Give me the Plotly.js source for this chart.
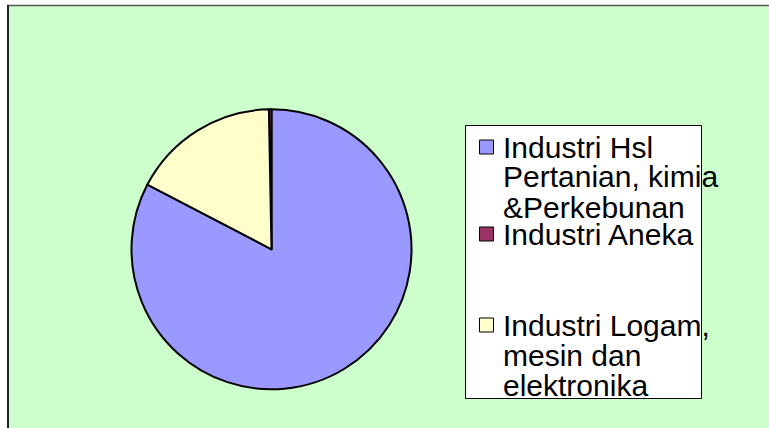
<!DOCTYPE html>
<html>
<head>
<meta charset="utf-8">
<script src="https://cdn.plot.ly/plotly-3.0.1.min.js"></script>
<style>html,body{margin:0;padding:0;background:#fff;}#chart{width:769px;height:428px;}</style>
</head>
<body>
<div id="chart"></div>
<script>
// ---- data ----
const legendLines = [
  ["Industri Hsl", "Pertanian, kimia", "&Perkebunan"],
  ["Industri Aneka"],
  ["Industri Logam,", "mesin dan", "elektronika"]
];
const categories = legendLines.map(l => l.join(" "));
const shares = [82.65, 0.3, 17.05];
const sliceColors = ["#9999FF", "#993366", "#FFFFCC"];

// ---- layout helpers (pixel -> paper) ----
const W = 769, H = 428;
const px = x => x / W;
const py = y => 1 - y / H;

const pieCx = 271.5, pieCy = 249.3, pieR = 140;

const trace = {
  type: "pie",
  labels: categories,
  values: shares,
  sort: false,
  direction: "counterclockwise",
  rotation: 0,
  textinfo: "none",
  hoverinfo: "label+percent",
  marker: { colors: sliceColors, line: { color: "#000000", width: 2 } },
  domain: { x: [px(pieCx - pieR), px(pieCx + pieR)], y: [py(pieCy + pieR), py(pieCy - pieR)] }
};

const shapes = [
  // white strips outside the frame
  { type: "rect", xref: "paper", yref: "paper", x0: 0, x1: px(7), y0: 0, y1: 1, fillcolor: "#FFFFFF", line: { width: 0 }, layer: "below" },
  { type: "rect", xref: "paper", yref: "paper", x0: 0, x1: 1, y0: py(5), y1: 1, fillcolor: "#FFFFFF", line: { width: 0 }, layer: "below" },
  // frame lines
  { type: "line", xref: "paper", yref: "paper", x0: px(7), x1: 1, y0: py(5.5), y1: py(5.5), line: { color: "#555555", width: 1.5 }, layer: "below" },
  { type: "line", xref: "paper", yref: "paper", x0: px(8), x1: px(8), y0: 0, y1: py(5), line: { color: "#222222", width: 2 }, layer: "below" },
  // legend box
  { type: "rect", xref: "paper", yref: "paper", x0: px(465.5), x1: px(701.5), y0: py(398.5), y1: py(125.5), fillcolor: "#FFFFFF", line: { color: "#000000", width: 1 }, layer: "above" }
];

const annotations = [];
const itemCenters = [147, 234, 325];
const lineStep = 30;
legendLines.forEach((lines, i) => {
  const cy = itemCenters[i];
  shapes.push({ type: "rect", xref: "paper", yref: "paper",
    x0: px(479.5), x1: px(493.5), y0: py(cy + 7), y1: py(cy - 7),
    fillcolor: sliceColors[i], line: { color: "#000000", width: 1 }, layer: "above" });
  lines.forEach((t, j) => {
    annotations.push({ xref: "paper", yref: "paper", x: px(501), y: py(cy + j * lineStep),
      xanchor: "left", yanchor: "middle", showarrow: false, text: t,
      font: { family: "Liberation Sans, Arial, sans-serif", size: 30, color: "#000000" } });
  });
});

const layout = {
  width: W, height: H,
  margin: { l: 0, r: 0, t: 0, b: 0, pad: 0 },
  paper_bgcolor: "#CCFFCC",
  plot_bgcolor: "#CCFFCC",
  showlegend: false,
  shapes: shapes,
  annotations: annotations
};

Plotly.newPlot("chart", [trace], layout, { displayModeBar: false, staticPlot: true });
</script>
</body>
</html>
